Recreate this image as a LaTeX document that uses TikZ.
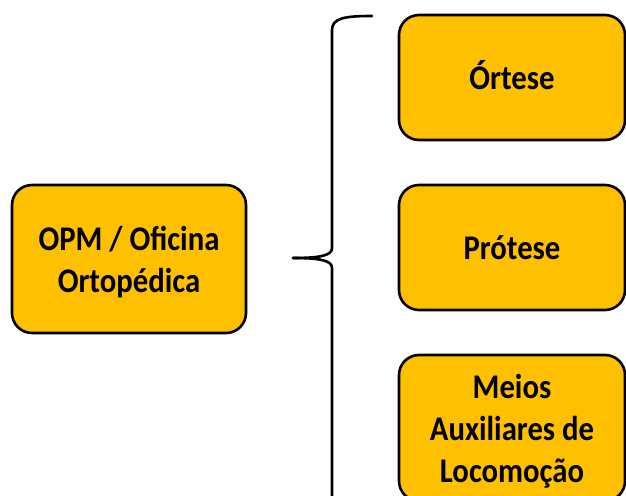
\documentclass[tikz,border=0pt]{standalone}
\usepackage{fontspec}
\setmainfont{Carlito}
\definecolor{boxgold}{HTML}{FFC000}
% card labels: slightly condensed, slightly taller lettering, set a little low
\newcommand{\cardlines}[1]{\raisebox{-4pt}[\height][\depth]{\scalebox{0.96}[1.08]{\begin{tabular}{@{}c@{}}#1\end{tabular}}}}
\begin{document}
\begin{tikzpicture}[x=1pt,y=-1pt,
  card/.style={draw=black, line width=2.6pt, fill=boxgold, rounded corners=20pt,
    align=center, inner sep=0pt, text=black,
    font=\bfseries\fontsize{32}{39}\selectfont},
  bracket/.style={draw=black, line width=2.6pt, line cap=round}]
  \useasboundingbox (0,0) rectangle (626,495);
  \clip (0,0) rectangle (626,495);
  % source box on the left
  \node[card, minimum width=234pt, minimum height=148pt] (opm) at (129,259)
    {\cardlines{OPM / Oficina\\Ortopédica}};
  % three category boxes on the right
  \node[card, minimum width=226pt, minimum height=125pt] (ortese) at (512,77.5)
    {\cardlines{Órtese}};
  \node[card, minimum width=226pt, minimum height=125pt] (protese) at (512,247.5)
    {\cardlines{Prótese}};
  \node[card, minimum width=226pt, minimum height=146pt] (meios) at (512,428)
    {\cardlines{Meios\\Auxiliares de\\Locomoção}};
  % curly brace grouping the categories
  \coordinate (btop) at (372,16);
  \coordinate (btip) at (293,258);
  \coordinate (bbot) at (332,500);
  \draw[bracket] (btop) .. controls (345,16) and (332,18) .. (332,30)
    -- (332,248) .. controls (332,255) and (322,258) .. (btip);
  \draw[bracket] (btip) .. controls (322,258) and (332,261) .. (332,268) -- (bbot);
\end{tikzpicture}
\end{document}
